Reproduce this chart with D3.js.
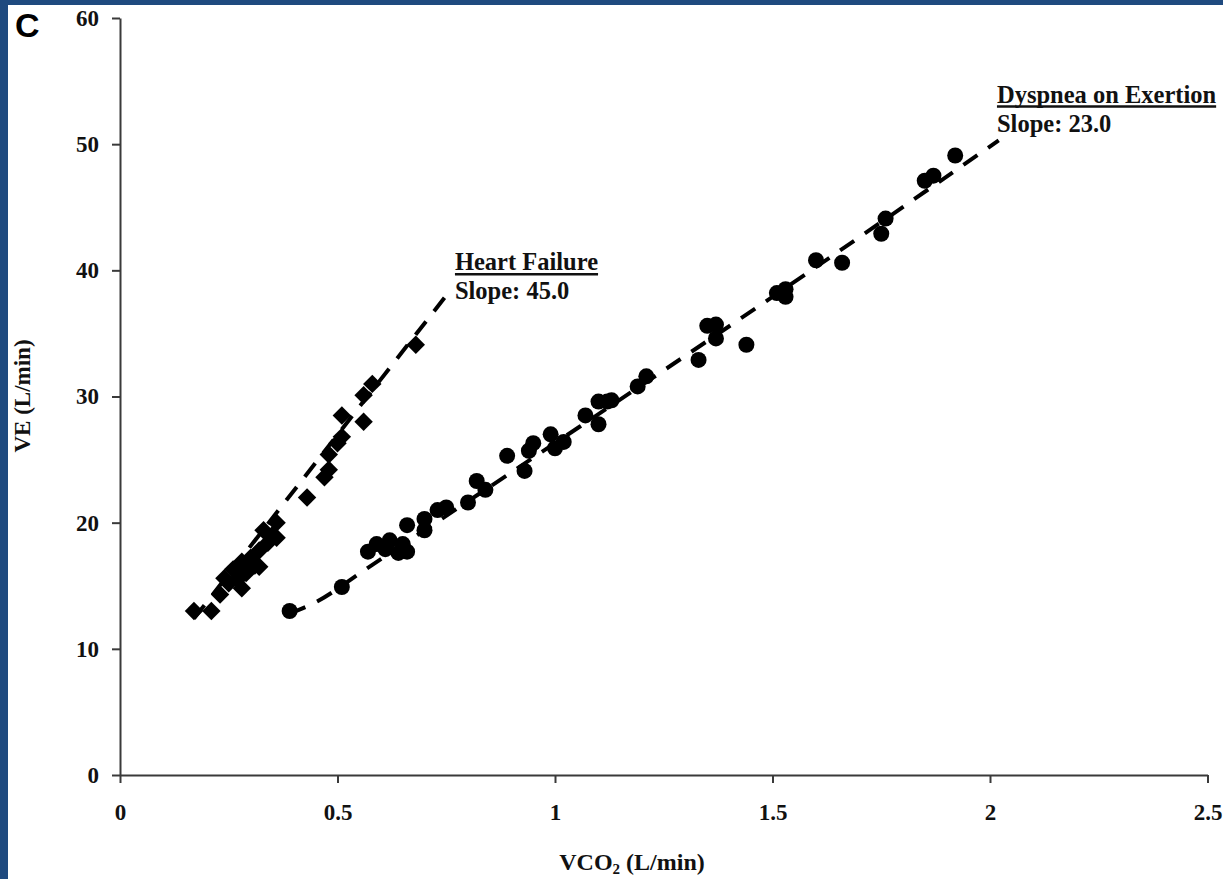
<!DOCTYPE html>
<html>
<head>
<meta charset="utf-8">
<script src="https://cdn.jsdelivr.net/npm/d3@7"></script>
<style>
  html, body { margin: 0; padding: 0; background: #1f4a7f; }
  svg { display: block; }
</style>
</head>
<body>
<svg id="chart" width="1223" height="879"></svg>
<script>
// VE vs VCO2 for the two patients
var hfPoints = [
  [0.17, 13.0], [0.21, 13.0], [0.23, 14.3], [0.24, 15.6], [0.25, 15.2],
  [0.26, 16.3], [0.27, 15.5], [0.28, 14.8], [0.28, 16.9], [0.29, 16.0],
  [0.30, 17.2], [0.31, 16.6], [0.32, 17.8], [0.32, 16.5], [0.33, 19.4],
  [0.34, 18.4], [0.35, 19.0], [0.36, 20.0], [0.36, 18.8], [0.43, 22.0],
  [0.47, 23.6], [0.48, 24.2], [0.48, 25.4], [0.50, 26.3], [0.51, 26.8],
  [0.51, 28.5], [0.56, 28.0], [0.56, 30.1], [0.58, 31.0], [0.68, 34.1]
];
var doePoints = [
  [0.39, 13.0], [0.51, 14.9], [0.57, 17.7], [0.59, 18.3], [0.61, 17.9],
  [0.62, 18.6], [0.64, 17.6], [0.65, 18.3], [0.66, 19.8], [0.66, 17.7],
  [0.70, 20.3], [0.70, 19.4], [0.73, 21.0], [0.75, 21.2], [0.80, 21.6],
  [0.82, 23.3], [0.84, 22.6], [0.89, 25.3], [0.93, 24.1], [0.95, 26.3],
  [0.94, 25.7], [0.99, 27.0], [1.00, 25.9], [1.02, 26.4], [1.07, 28.5],
  [1.10, 27.8], [1.10, 29.6], [1.12, 29.6], [1.13, 29.7], [1.19, 30.8],
  [1.21, 31.6], [1.33, 32.9], [1.35, 35.6], [1.37, 35.7], [1.37, 34.6],
  [1.44, 34.1], [1.51, 38.2], [1.53, 38.5], [1.53, 37.9], [1.60, 40.8],
  [1.66, 40.6], [1.75, 42.9], [1.76, 44.1], [1.85, 47.1], [1.87, 47.5],
  [1.92, 49.1]
];

// fitted trend lines (dashed)
var hfTrend = [[0.17, 12.4], [0.75, 38.0]];
var doeTrend = [[0.39, 12.8], [0.45, 13.7], [0.56, 16.2], [0.70, 19.4],
                [1.00, 26.3], [1.50, 37.9], [2.02, 50.3]];

var xTicks = [0, 0.5, 1, 1.5, 2, 2.5];
var yTicks = [0, 10, 20, 30, 40, 50, 60];

var annotations = [
  { title: "Heart Failure", slope: "Slope: 45.0", x: 0.77, y: 40.0 },
  { title: "Dyspnea on Exertion", slope: "Slope: 23.0", x: 2.016, y: 53.3 }
];

var serif = "'Liberation Serif', 'Times New Roman', serif";

var svg = d3.select("#chart");

// white plotting paper, blue frame shows on top and left
svg.append("rect")
    .attr("x", 8).attr("y", 5)
    .attr("width", 1223 - 8).attr("height", 879 - 5)
    .attr("fill", "#ffffff");

var x = d3.scaleLinear().domain([0, 2.5]).range([120, 1207.5]);
var y = d3.scaleLinear().domain([0, 60]).range([775, 18]);

// axes
var xAxis = svg.append("g")
    .attr("transform", "translate(0," + y(0) + ")")
    .call(d3.axisBottom(x).tickValues(xTicks).tickSize(8).tickSizeOuter(0)
        .tickFormat(function (d) { return String(d); }));

var yAxis = svg.append("g")
    .attr("transform", "translate(" + x(0) + ",0)")
    .call(d3.axisLeft(y).tickValues(yTicks).tickSize(8).tickSizeOuter(0));

[xAxis, yAxis].forEach(function (g) {
    g.select(".domain").attr("stroke", "#3a3a3a").attr("stroke-width", 2);
    g.selectAll(".tick line").attr("stroke", "#3a3a3a").attr("stroke-width", 2);
    g.selectAll(".tick text")
        .attr("fill", "#111")
        .style("font-family", serif)
        .style("font-weight", "bold")
        .style("font-size", "23px");
});
xAxis.selectAll(".tick text").attr("dy", "0").attr("y", 45);
yAxis.selectAll(".tick text").attr("x", -21);

// trend lines
var line = d3.line()
    .x(function (d) { return x(d[0]); })
    .y(function (d) { return y(d[1]); });

svg.append("path")
    .attr("d", line(hfTrend))
    .attr("fill", "none")
    .attr("stroke", "#000")
    .attr("stroke-width", 4)
    .attr("stroke-dasharray", "17,13");

svg.append("path")
    .attr("d", line.curve(d3.curveMonotoneX)(doeTrend))
    .attr("fill", "none")
    .attr("stroke", "#000")
    .attr("stroke-width", 4)
    .attr("stroke-dasharray", "17,13");

// markers
svg.append("g").selectAll("path")
    .data(hfPoints)
    .join("path")
    .attr("d", d3.symbol(d3.symbolSquare, 170))
    .attr("transform", function (d) {
        return "translate(" + x(d[0]) + "," + y(d[1]) + ") rotate(45)";
    })
    .attr("fill", "#000");

svg.append("g").selectAll("circle")
    .data(doePoints)
    .join("circle")
    .attr("cx", function (d) { return x(d[0]); })
    .attr("cy", function (d) { return y(d[1]); })
    .attr("r", 8)
    .attr("fill", "#000");

// annotations
annotations.forEach(function (a) {
    var t = svg.append("text")
        .attr("x", x(a.x)).attr("y", y(a.y))
        .style("font-family", serif)
        .style("font-weight", "bold")
        .style("font-size", "24.5px")
        .attr("fill", "#111")
        .text(a.title);
    var w = t.node().getComputedTextLength();
    svg.append("line")
        .attr("x1", x(a.x)).attr("x2", x(a.x) + w)
        .attr("y1", y(a.y) + 4).attr("y2", y(a.y) + 4)
        .attr("stroke", "#111").attr("stroke-width", 2.5);
    svg.append("text")
        .attr("x", x(a.x)).attr("y", y(a.y) + 29)
        .style("font-family", serif)
        .style("font-weight", "bold")
        .style("font-size", "24.5px")
        .attr("fill", "#111")
        .text(a.slope);
});

// axis titles
var xt = svg.append("text")
    .attr("x", 632).attr("y", 870)
    .attr("text-anchor", "middle")
    .style("font-family", serif)
    .style("font-weight", "bold")
    .style("font-size", "24px")
    .attr("fill", "#111");
xt.append("tspan").text("VCO");
xt.append("tspan").attr("dy", 4).style("font-size", "15px").text("2");
xt.append("tspan").attr("dy", -4).text(" (L/min)");

svg.append("text")
    .attr("transform", "translate(30,396) rotate(-90)")
    .attr("text-anchor", "middle")
    .style("font-family", serif)
    .style("font-weight", "bold")
    .style("font-size", "23px")
    .attr("fill", "#111")
    .text("VE (L/min)");

// panel letter
svg.append("text")
    .attr("x", 15).attr("y", 37)
    .style("font-family", "'Liberation Sans', Arial, sans-serif")
    .style("font-weight", "bold")
    .style("font-size", "34px")
    .attr("fill", "#000")
    .text("C");
</script>
</body>
</html>
